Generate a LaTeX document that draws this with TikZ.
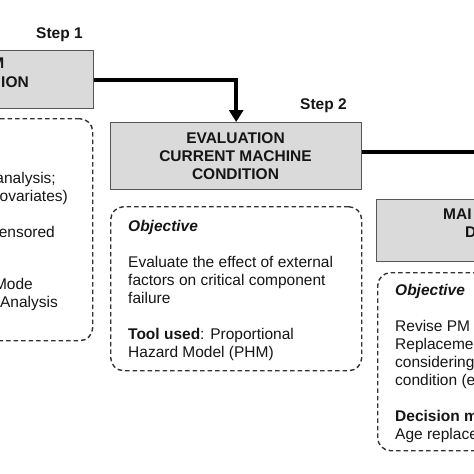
\documentclass[tikz,border=0pt]{standalone}
\usepackage{fontspec}
\setmainfont{Liberation Sans}
\usetikzlibrary{arrows.meta}
\definecolor{boxfill}{HTML}{DADADA}
\definecolor{boxline}{HTML}{555555}
\definecolor{dashline}{HTML}{333333}
\definecolor{ink}{HTML}{151515}
\tikzset{
  greybox/.style={draw=boxline, fill=boxfill, line width=1.4pt, inner sep=0pt},
  dashbox/.style={draw=dashline, dash pattern=on 4.5pt off 3pt, rounded corners=13pt, line width=1.4pt, inner sep=0pt},
  txt/.style={inner sep=0pt, text=ink, font=\fontsize{15.5}{18}\selectfont},
  btxt/.style={inner sep=0pt, text=ink, font=\fontsize{15.5}{18}\selectfont\bfseries},
  flow/.style={line width=4pt, draw=black},
}
\begin{document}
\begin{tikzpicture}[x=1pt,y=-1pt]
\useasboundingbox (0,0) rectangle (474,474);
\clip (0,0) rectangle (474,474);

% grey step boxes
\node[greybox, anchor=north west, minimum width=253pt, minimum height=58pt] (b1) at (-160,50) {};
\node[greybox, anchor=north west, minimum width=251pt, minimum height=67pt] (b2) at (110,122) {};
\node[greybox, anchor=north west, minimum width=264pt, minimum height=62pt] (b3) at (376,199) {};

% dashed detail boxes
\node[dashbox, anchor=north west, minimum width=252pt, minimum height=222pt] (d1) at (-160,118) {};
\node[dashbox, anchor=north west, minimum width=251pt, minimum height=164pt] (d2) at (110,206) {};
\node[dashbox, anchor=north west, minimum width=263pt, minimum height=178pt] (d3) at (377,272) {};

% step labels
\node[btxt, anchor=base west] (s1) at (36,38.5) {Step 1};
\node[btxt, anchor=base west] (s2) at (300,109.5) {Step 2};

% box 1 text
\node[btxt, anchor=base east] (b1a) at (4.5,68.5) {M};
\node[btxt, anchor=base east] (b1b) at (29,87.5) {ION};

% box 2 text
\node[btxt, anchor=base] (b2a) at (235.5,143.5) {EVALUATION};
\node[btxt, anchor=base] (b2b) at (235.5,161.5) {CURRENT MACHINE};
\node[btxt, anchor=base] (b2c) at (235.5,179) {CONDITION};

% box 3 text
\node[btxt, anchor=base west] (b3a) at (443,219.5) {MAI};
\node[btxt, anchor=base west] (b3b) at (465,237.5) {D};

% left dashed box text
\node[txt, anchor=base east] (l1) at (56,183.5) {analysis;};
\node[txt, anchor=base east] (l2) at (68,201.5) {ovariates)};
\node[txt, anchor=base east] (l3) at (55,237.5) {ensored};
\node[txt, anchor=base east] (l4) at (33,289.5) {Mode};
\node[txt, anchor=base east] (l5) at (58,307.5) {Analysis};

% middle dashed box text
\node[btxt, anchor=base west] (m1) at (128,231.5) {\itshape Objective};
\node[txt, anchor=base west] (m2) at (128,267.5) {Evaluate the effect of external};
\node[txt, anchor=base west] (m3) at (128,285.5) {factors on critical component};
\node[txt, anchor=base west] (m4) at (128,303.5) {failure};
\node[txt, anchor=base west] (m5) at (128,339.5) {\textbf{Tool used}: Proportional};
\node[txt, anchor=base west] (m6) at (128,357.5) {Hazard Model (PHM)};

% right dashed box text
\node[btxt, anchor=base west] (r1) at (395,295.5) {\itshape Objective};
\node[txt, anchor=base west] (r2) at (395,331.5) {Revise PM};
\node[txt, anchor=base west] (r3) at (395,349.5) {Replaceme};
\node[txt, anchor=base west] (r4) at (395,367.5) {considering};
\node[txt, anchor=base west] (r5) at (395,385.5) {condition (e};
\node[btxt, anchor=base west] (r6) at (395,421.5) {Decision m};
\node[txt, anchor=base west] (r7) at (395,439.5) {Age replace};

% connectors
\coordinate (c3) at (490,152);
\draw[flow, -{Triangle[width=14pt,length=12pt]}] (b1.east) -| (b2.north);
\draw[flow] (b2.east |- c3) -- (c3);
\end{tikzpicture}
\end{document}
